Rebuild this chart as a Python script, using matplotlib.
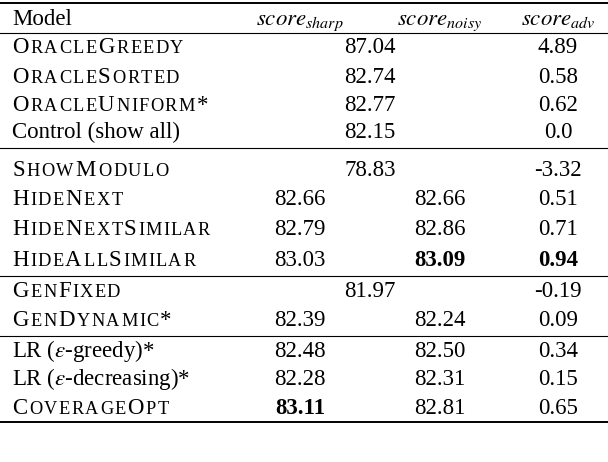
import matplotlib.pyplot as plt

plt.rcParams["mathtext.fontset"] = "stix"

models = ["ORACLEGREEDY", "ORACLESORTED", "ORACLEUNIFORM*", "Control (show all)",
          "SHOWMODULO", "HIDENEXT", "HIDENEXTSIMILAR", "HIDEALLSIMILAR",
          "GENFIXED", "GENDYNAMIC*", r"LR ($\epsilon$-greedy)*", r"LR ($\epsilon$-decreasing)*",
          "COVERAGEOPT"]
small_caps = [True, True, True, False, True, True, True, True, True, True, False, False, True]
sharp = ["87.04", "82.74", "82.77", "82.15", "78.83", "82.66", "82.79", "83.03",
         "81.97", "82.39", "82.48", "82.28", "83.11"]
noisy = [None, None, None, None, None, "82.66", "82.86", "83.09",
         None, "82.24", "82.50", "82.31", "82.81"]
adv = ["4.89", "0.58", "0.62", "0.0", "-3.32", "0.51", "0.71", "0.94",
       "-0.19", "0.09", "0.34", "0.15", "0.65"]
bold = {(7, "noisy"), (7, "adv"), (12, "sharp")}

row_y = [46, 76, 104, 131, 169, 198, 228, 259, 290, 319, 350, 378, 407]
FS = 16.5
FAM = "Liberation Serif"

# word starts for the small caps names
word_starts = {
    "ORACLEGREEDY": [0, 6], "ORACLESORTED": [0, 6], "ORACLEUNIFORM*": [0, 6],
    "SHOWMODULO": [0, 4], "HIDENEXT": [0, 4], "HIDENEXTSIMILAR": [0, 4, 8],
    "HIDEALLSIMILAR": [0, 4, 7], "GENFIXED": [0, 3], "GENDYNAMIC*": [0, 3],
    "COVERAGEOPT": [0, 8],
}

fig = plt.figure(figsize=(6.08, 4.62), dpi=100)
ax = fig.add_axes([0, 0, 1, 1])
ax.set_xlim(0, 608)
ax.set_ylim(462, 0)
ax.axis("off")
fig.canvas.draw()
renderer = fig.canvas.get_renderer()


def draw_name(x, y, s):
    starts = word_starts[s]
    for i, ch in enumerate(s):
        big = i in starts or not ch.isalpha()
        t = ax.text(x, y, ch, fontsize=FS if big else FS * 0.8, family=FAM,
                    va="baseline", ha="left")
        x += t.get_window_extent(renderer).width * 1.12


base = 7
ax.text(12, 18 + base, "Model", fontsize=FS, family=FAM, va="baseline")
ax.text(300, 18 + base, r"$score_{sharp}$", fontsize=FS, ha="center", va="baseline")
ax.text(440, 18 + base, r"$score_{noisy}$", fontsize=FS, ha="center", va="baseline")
ax.text(558, 18 + base, r"$score_{adv}$", fontsize=FS, ha="center", va="baseline")

for i, m in enumerate(models):
    y = row_y[i] + base
    if small_caps[i]:
        draw_name(12, y, m)
    else:
        ax.text(12, y, m, fontsize=FS, family=FAM, va="baseline")
    if noisy[i] is None:
        ax.text(370, y, sharp[i], fontsize=FS, family=FAM, ha="center", va="baseline")
    else:
        ax.text(300, y, sharp[i], fontsize=FS, family=FAM, ha="center", va="baseline",
                weight="bold" if (i, "sharp") in bold else "normal")
        ax.text(440, y, noisy[i], fontsize=FS, family=FAM, ha="center", va="baseline",
                weight="bold" if (i, "noisy") in bold else "normal")
    ax.text(558, y, adv[i], fontsize=FS, family=FAM, ha="center", va="baseline",
            weight="bold" if (i, "adv") in bold else "normal")

for yy, lw in [(3, 1.4), (33, 0.8), (148, 0.8), (276, 0.8), (336, 0.8), (422, 1.4)]:
    ax.plot([0, 608], [yy, yy], color="black", lw=lw)

fig.savefig("out.png", dpi=100)
